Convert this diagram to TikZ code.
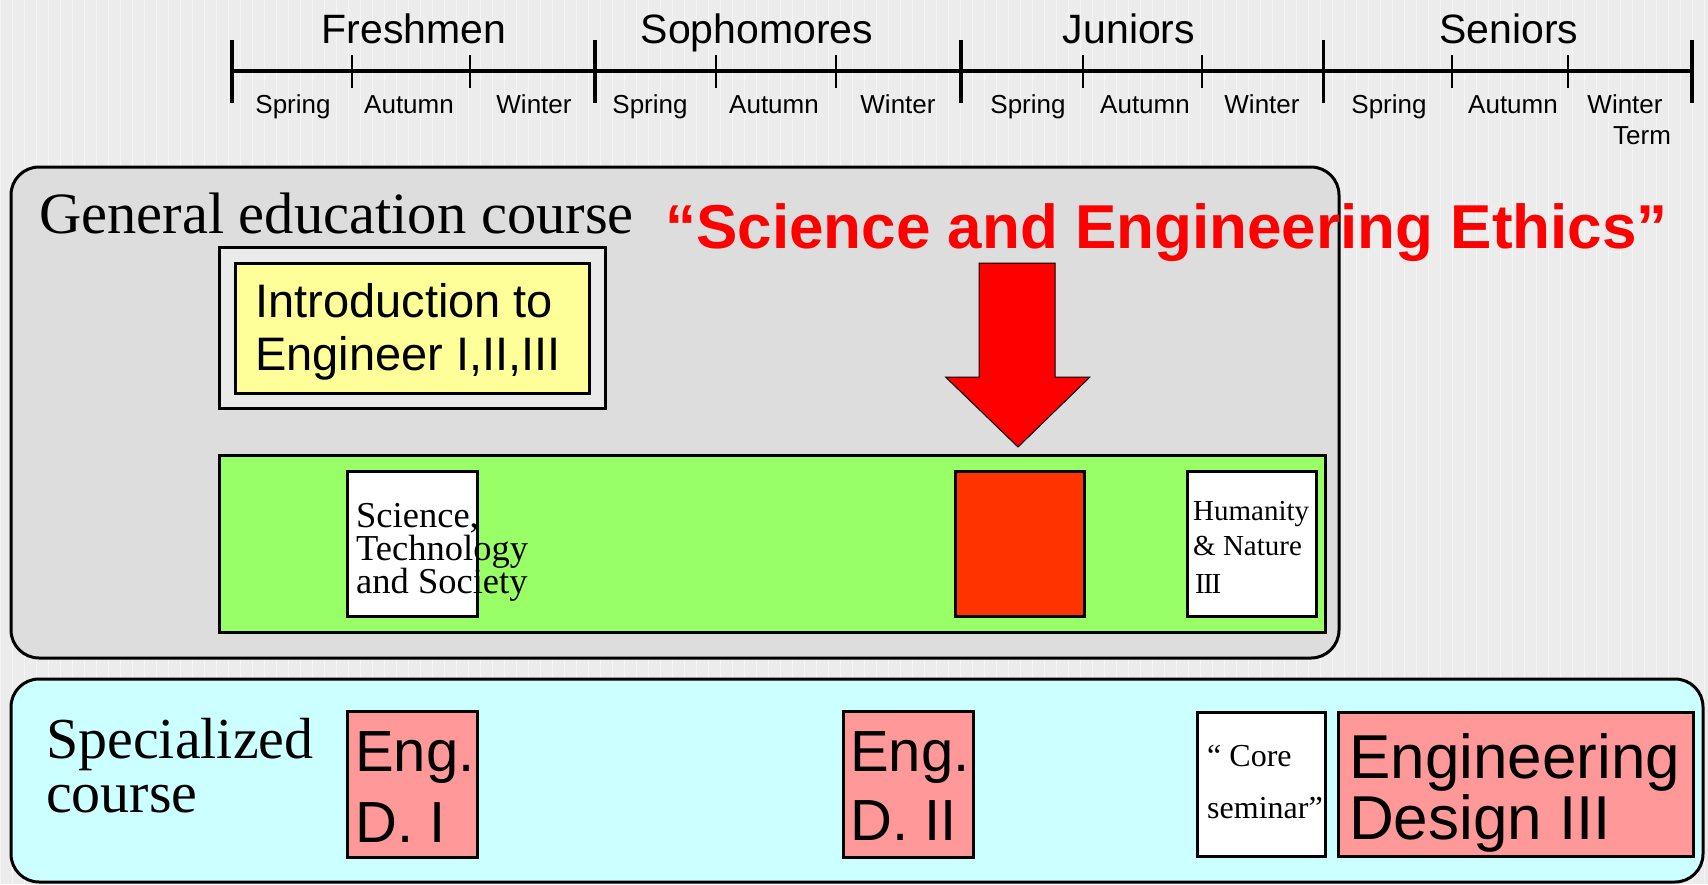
\documentclass[tikz,border=0pt]{standalone}
\usepackage{fontspec}
\setmainfont{Liberation Serif}
\newfontfamily\arialf{Liberation Sans}
\definecolor{bggray}{RGB}{236,236,236}
\definecolor{gengray}{RGB}{221,221,221}
\definecolor{outgray}{RGB}{234,234,234}
\definecolor{introyel}{RGB}{255,255,153}
\definecolor{bargreen}{RGB}{153,255,102}
\definecolor{ethred}{RGB}{255,51,0}
\definecolor{speccyan}{RGB}{204,255,255}
\definecolor{engpink}{RGB}{255,153,153}
\definecolor{titlered}{RGB}{255,0,0}
\tikzset{
  boxstyle/.style={draw=black, line width=3pt, rectangle, inner sep=0pt},
  roundbox/.style={boxstyle, rounded corners=28pt},
  lab/.style={inner sep=0pt, anchor=base west},
  clab/.style={inner sep=0pt, anchor=base},
  yearlab/.style={clab, font=\arialf\fontsize{41}{41}\selectfont},
  termlab/.style={clab, font=\arialf\fontsize{26}{26}\selectfont},
  majortick/.style={line width=3.5pt},
  minortick/.style={line width=1.5pt},
}
\begin{document}
\begin{tikzpicture}[x=1pt,y=-1pt]
\useasboundingbox (0,0) rectangle (1708,884);
% background
\fill[bggray] (0,0) rectangle (1708,884);
\draw[white, line width=1pt, opacity=0.5, step=12] (0,0) grid (1708,884);

% timeline
\draw[line width=4pt] (232,71) -- (1692,71);
\foreach \x in {232,595,961,1323.5,1692} \draw[majortick] (\x,40) -- (\x,103);
\foreach \x in {352,470,716,836,1083,1202,1452,1568} \draw[minortick] (\x,55) -- (\x,88);
\node[yearlab] (fresh) at (414,43) {Freshmen};
\node[yearlab] (soph) at (757,43) {Sophomores};
\node[yearlab] (jun) at (1129,43) {Juniors};
\node[yearlab] (sen) at (1509,43) {Seniors};
\node[termlab] (t1) at (293,113) {Spring};
\node[termlab] (t2) at (409,113) {Autumn};
\node[termlab] (t3) at (534,113) {Winter};
\node[termlab] (t4) at (650,113) {Spring};
\node[termlab] (t5) at (774,113) {Autumn};
\node[termlab] (t6) at (898,113) {Winter};
\node[termlab] (t7) at (1028,113) {Spring};
\node[termlab] (t8) at (1145,113) {Autumn};
\node[termlab] (t9) at (1262,113) {Winter};
\node[termlab] (t10) at (1389,113) {Spring};
\node[termlab] (t11) at (1513,113) {Autumn};
\node[termlab] (t12) at (1625,113) {Winter};
\node[termlab] (t12b) at (1642,144) {Term};

% general education course
\node[roundbox, fill=gengray, minimum width=1328pt, minimum height=491pt] (gen) at (675,412.5) {};
\node[lab, font=\fontsize{58.5}{58.5}\selectfont] (genlab) at (39,233) {General education course};

\node[boxstyle, fill=outgray, minimum width=386pt, minimum height=161pt] (introout) at (412,327.5) {};
\node[boxstyle, fill=introyel, minimum width=354pt, minimum height=130pt] (introin) at (412,328) {};
\node[lab, font=\arialf\fontsize{47}{47}\selectfont] (intro1) at (255,317) {Introduction to};
\node[lab, font=\arialf\fontsize{47}{47}\selectfont] (intro2) at (255,370) {Engineer I,II,III};

\node[boxstyle, fill=bargreen, minimum width=1106pt, minimum height=177pt] (green) at (772,543.5) {};
\node[boxstyle, fill=white, minimum width=130pt, minimum height=145pt] (sts) at (412,543.5) {};
\node[lab, font=\fontsize{36.5}{36.5}\selectfont] (sts1) at (356,527) {Science,};
\node[lab, font=\fontsize{36.5}{36.5}\selectfont] (sts2) at (356,560) {Technology};
\node[lab, font=\fontsize{36.5}{36.5}\selectfont] (sts3) at (356,593) {and Society};

\node[boxstyle, fill=ethred, minimum width=128.5pt, minimum height=145pt] (ethics) at (1020,543.5) {};

\node[boxstyle, fill=white, minimum width=128.5pt, minimum height=145pt] (hum) at (1252,543.5) {};
\node[lab, font=\fontsize{29}{29}\selectfont] (hum1) at (1193,520) {Humanity};
\node[lab, font=\fontsize{29}{29}\selectfont] (hum2) at (1193,555) {\& Nature};
\node[lab, font=\fontsize{29}{29}\selectfont] (hum3) at (1195,593) {I\kern-1.5pt I\kern-1.5pt I};

% title and arrow
\node[lab, font=\arialf\bfseries\fontsize{62}{62}\selectfont, text=titlered] (title) at (665,248) {“Science and Engineering Ethics”};
\draw[fill=titlered, draw=black, line width=1pt, line join=miter]
  (979,263) -- (1055,263) -- (1055,377) -- (1090,377) -- (1018,447) -- (945.5,377) -- (979,377) -- cycle;

% specialized course
\node[roundbox, fill=speccyan, minimum width=1692pt, minimum height=203pt] (spec) at (857,780.5) {};
\node[lab, font=\fontsize{58}{58}\selectfont] (spec1) at (46,758) {Specialized};
\node[lab, font=\fontsize{58}{58}\selectfont] (spec2) at (46,812) {course};

\node[boxstyle, fill=engpink, minimum width=130pt, minimum height=146pt] (engd1) at (412,784) {};
\node[lab, font=\arialf\fontsize{58}{58}\selectfont] (engd1a) at (355,771) {Eng.};
\node[lab, font=\arialf\fontsize{58}{58}\selectfont] (engd1b) at (355,842) {D. I};

\node[boxstyle, fill=engpink, minimum width=130pt, minimum height=146pt] (engd2) at (908,784) {};
\node[lab, font=\arialf\fontsize{58}{58}\selectfont] (engd2a) at (850,771) {Eng.};
\node[lab, font=\arialf\fontsize{58}{58}\selectfont] (engd2b) at (850,840) {D. II};

\node[boxstyle, fill=white, minimum width=128pt, minimum height=144pt] (core) at (1261,784) {};
\node[lab, font=\fontsize{32}{32}\selectfont] (core1) at (1207,766) {“ Core};
\node[lab, font=\fontsize{32}{32}\selectfont] (core2) at (1207,818) {seminar”};

\node[boxstyle, fill=engpink, minimum width=355pt, minimum height=144pt] (engd3) at (1515.5,784) {};
\node[lab, font=\arialf\fontsize{62}{62}\selectfont] (engd3a) at (1349,778) {Engineering};
\node[lab, font=\arialf\fontsize{62}{62}\selectfont] (engd3b) at (1349,839) {Design III};
\end{tikzpicture}
\end{document}
